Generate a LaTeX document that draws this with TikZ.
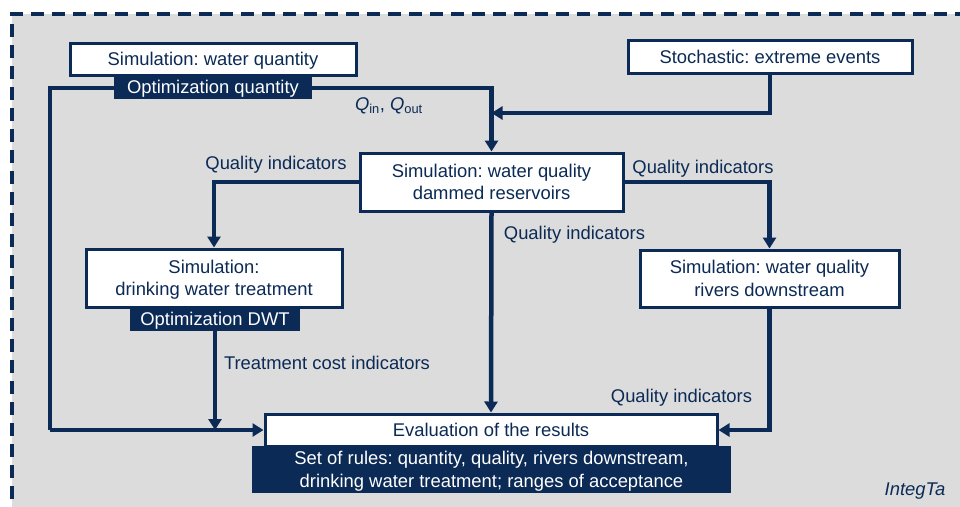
\documentclass[tikz,border=0pt]{standalone}
\usepackage{fontspec}
\setmainfont{Liberation Sans}
\usetikzlibrary{arrows.meta,calc}
\frenchspacing
\definecolor{navy}{HTML}{0B2A55}
\definecolor{bggrey}{HTML}{DCDCDC}
\tikzset{
  txt/.style={inner sep=0pt,text height=13.2pt,text depth=0pt,
    font=\fontsize{18.4}{22.5}\selectfont\frenchspacing},
  twoline/.style={text height=35.7pt,text depth=0pt},
  whitebox/.style={txt,draw=navy,line width=3pt,fill=white,text=navy,align=center},
  darkbox/.style={txt,fill=navy,draw=none,text=white,align=center},
  lbl/.style={txt,text=navy},
  conn/.style={draw=navy,line width=4.5pt},
  arr/.style={conn,-{Triangle[length=11pt,width=13pt]}}
}
\begin{document}
\begin{tikzpicture}[x=1pt,y=-1pt]
\useasboundingbox (0,0) rectangle (960,506);
\fill[bggrey] (12,14) rectangle (975,520);
\draw[navy,line width=4pt,dash pattern=on 13pt off 8pt] (12,520) -- (12,14) -- (975,14);

% nodes
\node[whitebox,minimum width=286pt,minimum height=32pt] (qty) at (213,59) {Simulation: water quantity};
\node[whitebox,minimum width=284pt,minimum height=33pt] (stoch) at (770,56.5) {Stochastic: extreme events};
\node[whitebox,twoline,minimum width=263pt,minimum height=58pt] (wqres) at (491.5,182) {Simulation: water quality\\dammed reservoirs};
\node[whitebox,twoline,minimum width=256pt,minimum height=58pt] (dwt) at (214,278) {Simulation:\\drinking water treatment};
\node[whitebox,twoline,minimum width=259pt,minimum height=57pt] (riv) at (769.5,278.5) {Simulation: water quality\\rivers downstream};
\node[whitebox,minimum width=452pt,minimum height=32pt] (eval) at (491,430) {Evaluation of the results};

\coordinate (lc) at (50,430);
\coordinate (mj) at (491.5,113);
\coordinate (oq) at (213,88);

% connectors (drawn before dark boxes so they pass behind)
\draw[conn] (oq) -- (50,88) -- (lc);
\draw[arr] (lc) -- (eval.west);
\draw[arr] (oq) -| (wqres.north);
\draw[arr] (stoch.south) |- (mj);
\draw[arr] (wqres.west) -| (dwt.north);
\draw[arr] (wqres.east) -| (riv.north);
\draw[arr] (wqres.south) -- (eval.north);
\draw[arr] (riv.south) |- (eval.east);

\node[darkbox,minimum width=198pt,minimum height=24pt] (optq) at (213,87) {Optimization quantity};
\node[darkbox,minimum width=170pt,minimum height=24pt] (optdwt) at (215,319) {Optimization DWT};
\node[darkbox,twoline,minimum width=479pt,minimum height=47pt] (rules) at (491.5,469.5) {Set of rules: quantity, quality, rivers downstream,\\drinking water treatment; ranges of acceptance};

\draw[arr] (optdwt.south) -- (optdwt.south |- lc);

% labels
\node[lbl,anchor=east] (qlab) at (423,104) {\textit{Q}\textsubscript{in}, \textit{Q}\textsubscript{out}};
\node[lbl] (ql1) at (276,163) {Quality indicators};
\node[lbl] (ql2) at (703,167) {Quality indicators};
\node[lbl] (ql3) at (574.5,233) {Quality indicators};
\node[lbl] (tcl) at (327,363) {Treatment cost indicators};
\node[lbl] (ql4) at (681.5,396) {Quality indicators};
\node[lbl] (integ) at (915,489) {\textit{IntegTa}};
\end{tikzpicture}
\end{document}
